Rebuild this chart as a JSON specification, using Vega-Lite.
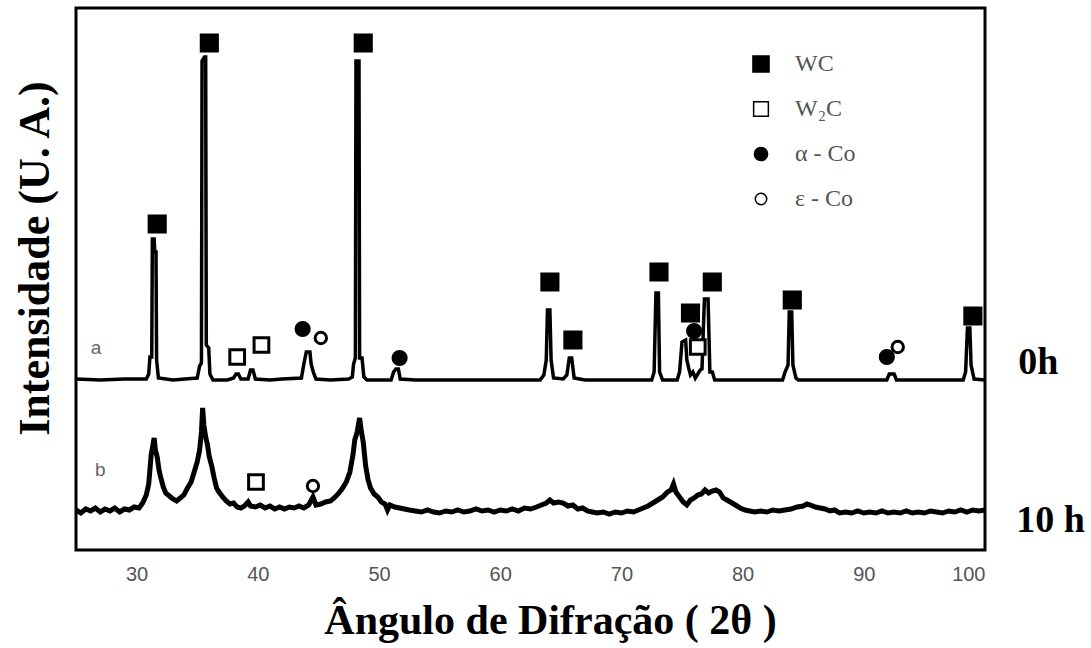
{
  "$schema": "https://vega.github.io/schema/vega-lite/v6.json",
  "width": 909,
  "height": 542,
  "autosize": "none",
  "padding": {"left": 76, "top": 8, "right": 106, "bottom": 98},
  "background": "white",
  "config": {
    "view": {"stroke": "black", "strokeWidth": 3},
    "font": "Liberation Serif"
  },
  "datasets": {
    "trace": [
      {"t":"a","x":25,"I":171},{"t":"a","x":27,"I":170},{"t":"a","x":29,"I":171},{"t":"a","x":30.8,"I":171},
      {"t":"a","x":31.0,"I":176},{"t":"a","x":31.1,"I":193},{"t":"a","x":31.25,"I":193},{"t":"a","x":31.3,"I":311},
      {"t":"a","x":31.45,"I":311},{"t":"a","x":31.5,"I":298},{"t":"a","x":31.6,"I":298},{"t":"a","x":31.65,"I":190},
      {"t":"a","x":31.8,"I":172},{"t":"a","x":33,"I":170},{"t":"a","x":34,"I":171},{"t":"a","x":35.0,"I":172},
      {"t":"a","x":35.2,"I":184},{"t":"a","x":35.35,"I":187},{"t":"a","x":35.4,"I":489},{"t":"a","x":35.6,"I":493},
      {"t":"a","x":35.7,"I":493},{"t":"a","x":35.75,"I":205},{"t":"a","x":35.95,"I":202},{"t":"a","x":36.05,"I":176},
      {"t":"a","x":36.3,"I":170},{"t":"a","x":37.5,"I":170},{"t":"a","x":38.0,"I":172},{"t":"a","x":38.2,"I":176},
      {"t":"a","x":38.4,"I":176},{"t":"a","x":38.6,"I":171},{"t":"a","x":39.2,"I":171},{"t":"a","x":39.4,"I":180},
      {"t":"a","x":39.6,"I":180},{"t":"a","x":39.8,"I":171},{"t":"a","x":41,"I":170},{"t":"a","x":42,"I":171},
      {"t":"a","x":43.6,"I":172},{"t":"a","x":43.8,"I":186},{"t":"a","x":44.0,"I":198},{"t":"a","x":44.3,"I":198},
      {"t":"a","x":44.4,"I":186},{"t":"a","x":44.6,"I":177},{"t":"a","x":44.8,"I":171},{"t":"a","x":46,"I":170},
      {"t":"a","x":47.5,"I":171},{"t":"a","x":47.8,"I":173},{"t":"a","x":47.9,"I":186},{"t":"a","x":48.05,"I":192},
      {"t":"a","x":48.1,"I":489},{"t":"a","x":48.35,"I":489},{"t":"a","x":48.4,"I":192},{"t":"a","x":48.6,"I":192},
      {"t":"a","x":48.75,"I":173},{"t":"a","x":49,"I":170},{"t":"a","x":51.0,"I":170},{"t":"a","x":51.2,"I":178},
      {"t":"a","x":51.4,"I":181},{"t":"a","x":51.6,"I":181},{"t":"a","x":51.75,"I":171},{"t":"a","x":53,"I":170},
      {"t":"a","x":56,"I":170},{"t":"a","x":60,"I":170},{"t":"a","x":63.3,"I":170},{"t":"a","x":63.6,"I":175},
      {"t":"a","x":63.8,"I":190},{"t":"a","x":63.9,"I":240},{"t":"a","x":64.1,"I":240},{"t":"a","x":64.2,"I":190},
      {"t":"a","x":64.4,"I":172},{"t":"a","x":65.2,"I":171},{"t":"a","x":65.5,"I":175},{"t":"a","x":65.7,"I":192},
      {"t":"a","x":65.9,"I":192},{"t":"a","x":66.1,"I":172},{"t":"a","x":67,"I":170},{"t":"a","x":70,"I":170},
      {"t":"a","x":72.5,"I":170},{"t":"a","x":72.7,"I":178},{"t":"a","x":72.85,"I":257},{"t":"a","x":73.05,"I":257},
      {"t":"a","x":73.15,"I":178},{"t":"a","x":73.4,"I":170},{"t":"a","x":74.6,"I":170},{"t":"a","x":74.8,"I":178},
      {"t":"a","x":75.0,"I":208},{"t":"a","x":75.3,"I":210},{"t":"a","x":75.4,"I":190},{"t":"a","x":75.55,"I":182},
      {"t":"a","x":75.7,"I":175},{"t":"a","x":75.9,"I":178},{"t":"a","x":76.1,"I":172},{"t":"a","x":76.3,"I":176},
      {"t":"a","x":76.5,"I":180},{"t":"a","x":76.65,"I":181},{"t":"a","x":76.85,"I":251},{"t":"a","x":77.15,"I":251},
      {"t":"a","x":77.3,"I":178},{"t":"a","x":77.5,"I":178},{"t":"a","x":77.7,"I":170},{"t":"a","x":80,"I":170},
      {"t":"a","x":83.3,"I":170},{"t":"a","x":83.5,"I":178},{"t":"a","x":83.75,"I":185},{"t":"a","x":83.85,"I":238},
      {"t":"a","x":84.05,"I":238},{"t":"a","x":84.15,"I":185},{"t":"a","x":84.4,"I":172},{"t":"a","x":84.6,"I":170},
      {"t":"a","x":88,"I":170},{"t":"a","x":91.9,"I":170},{"t":"a","x":92.1,"I":176},{"t":"a","x":92.5,"I":176},
      {"t":"a","x":92.7,"I":170},{"t":"a","x":96,"I":170},{"t":"a","x":98.2,"I":170},{"t":"a","x":98.4,"I":178},
      {"t":"a","x":98.55,"I":222},{"t":"a","x":98.75,"I":222},{"t":"a","x":98.85,"I":185},{"t":"a","x":99.1,"I":171},
      {"t":"a","x":100,"I":170},

      {"t":"b","x":25.0,"I":40},{"t":"b","x":25.4,"I":37},{"t":"b","x":25.8,"I":41},{"t":"b","x":26.2,"I":39},
      {"t":"b","x":26.6,"I":42},{"t":"b","x":27.0,"I":38},{"t":"b","x":27.4,"I":41},{"t":"b","x":27.8,"I":39},
      {"t":"b","x":28.2,"I":42},{"t":"b","x":28.6,"I":38},{"t":"b","x":29.0,"I":41},{"t":"b","x":29.4,"I":40},
      {"t":"b","x":29.8,"I":43},{"t":"b","x":30.2,"I":42},{"t":"b","x":30.5,"I":47},{"t":"b","x":30.8,"I":55},
      {"t":"b","x":31.0,"I":66},{"t":"b","x":31.2,"I":95},{"t":"b","x":31.35,"I":105},{"t":"b","x":31.45,"I":112},
      {"t":"b","x":31.55,"I":100},{"t":"b","x":31.7,"I":93},{"t":"b","x":31.85,"I":80},{"t":"b","x":32.0,"I":72},
      {"t":"b","x":32.2,"I":63},{"t":"b","x":32.4,"I":57},{"t":"b","x":32.7,"I":54},{"t":"b","x":33.0,"I":51},
      {"t":"b","x":33.3,"I":49},{"t":"b","x":33.6,"I":52},{"t":"b","x":33.9,"I":55},{"t":"b","x":34.2,"I":62},
      {"t":"b","x":34.5,"I":68},{"t":"b","x":34.8,"I":80},{"t":"b","x":35.0,"I":88},{"t":"b","x":35.2,"I":100},
      {"t":"b","x":35.35,"I":118},{"t":"b","x":35.45,"I":142},{"t":"b","x":35.55,"I":125},{"t":"b","x":35.7,"I":113},
      {"t":"b","x":35.85,"I":105},{"t":"b","x":36.0,"I":93},{"t":"b","x":36.2,"I":84},{"t":"b","x":36.4,"I":72},
      {"t":"b","x":36.6,"I":62},{"t":"b","x":36.8,"I":58},{"t":"b","x":37.1,"I":53},{"t":"b","x":37.4,"I":49},
      {"t":"b","x":37.7,"I":46},{"t":"b","x":38.0,"I":47},{"t":"b","x":38.3,"I":43},{"t":"b","x":38.6,"I":42},
      {"t":"b","x":38.9,"I":44},{"t":"b","x":39.2,"I":48},{"t":"b","x":39.4,"I":44},{"t":"b","x":39.8,"I":43},
      {"t":"b","x":40.2,"I":45},{"t":"b","x":40.6,"I":42},{"t":"b","x":41.0,"I":44},{"t":"b","x":41.4,"I":41},
      {"t":"b","x":41.8,"I":43},{"t":"b","x":42.2,"I":41},{"t":"b","x":42.6,"I":43},{"t":"b","x":43.0,"I":42},
      {"t":"b","x":43.4,"I":44},{"t":"b","x":43.8,"I":42},{"t":"b","x":44.2,"I":45},{"t":"b","x":44.55,"I":53},
      {"t":"b","x":44.8,"I":45},{"t":"b","x":45.2,"I":46},{"t":"b","x":45.6,"I":48},{"t":"b","x":46.0,"I":49},
      {"t":"b","x":46.3,"I":52},{"t":"b","x":46.7,"I":57},{"t":"b","x":47.0,"I":62},{"t":"b","x":47.3,"I":68},
      {"t":"b","x":47.6,"I":78},{"t":"b","x":47.85,"I":95},{"t":"b","x":48.0,"I":110},{"t":"b","x":48.2,"I":118},
      {"t":"b","x":48.4,"I":132},{"t":"b","x":48.55,"I":118},{"t":"b","x":48.7,"I":108},{"t":"b","x":48.9,"I":84},
      {"t":"b","x":49.1,"I":70},{"t":"b","x":49.3,"I":62},{"t":"b","x":49.6,"I":56},{"t":"b","x":49.9,"I":53},
      {"t":"b","x":50.2,"I":48},{"t":"b","x":50.5,"I":46},{"t":"b","x":50.7,"I":40},{"t":"b","x":50.9,"I":45},
      {"t":"b","x":51.3,"I":43},{"t":"b","x":51.7,"I":42},{"t":"b","x":52.1,"I":41},{"t":"b","x":52.5,"I":40},
      {"t":"b","x":53.0,"I":39},{"t":"b","x":53.5,"I":38},{"t":"b","x":54.0,"I":40},{"t":"b","x":54.5,"I":38},
      {"t":"b","x":55.0,"I":37},{"t":"b","x":55.5,"I":39},{"t":"b","x":56.0,"I":38},{"t":"b","x":56.5,"I":40},
      {"t":"b","x":57.0,"I":38},{"t":"b","x":57.5,"I":39},{"t":"b","x":58.0,"I":41},{"t":"b","x":58.5,"I":39},
      {"t":"b","x":59.0,"I":40},{"t":"b","x":59.5,"I":38},{"t":"b","x":60.0,"I":40},{"t":"b","x":60.5,"I":39},
      {"t":"b","x":61.0,"I":41},{"t":"b","x":61.5,"I":39},{"t":"b","x":62.0,"I":42},{"t":"b","x":62.5,"I":41},
      {"t":"b","x":63.0,"I":43},{"t":"b","x":63.4,"I":45},{"t":"b","x":63.8,"I":47},{"t":"b","x":64.1,"I":50},
      {"t":"b","x":64.4,"I":47},{"t":"b","x":64.8,"I":48},{"t":"b","x":65.2,"I":47},{"t":"b","x":65.6,"I":44},
      {"t":"b","x":66.0,"I":45},{"t":"b","x":66.4,"I":41},{"t":"b","x":66.8,"I":42},{"t":"b","x":67.2,"I":39},
      {"t":"b","x":67.6,"I":38},{"t":"b","x":68.0,"I":37},{"t":"b","x":68.5,"I":38},{"t":"b","x":69.0,"I":36},
      {"t":"b","x":69.5,"I":38},{"t":"b","x":70.0,"I":37},{"t":"b","x":70.5,"I":39},{"t":"b","x":71.0,"I":38},
      {"t":"b","x":71.4,"I":40},{"t":"b","x":71.8,"I":42},{"t":"b","x":72.2,"I":44},{"t":"b","x":72.6,"I":47},
      {"t":"b","x":73.0,"I":50},{"t":"b","x":73.4,"I":53},{"t":"b","x":73.8,"I":58},{"t":"b","x":74.1,"I":60},
      {"t":"b","x":74.3,"I":66},{"t":"b","x":74.5,"I":58},{"t":"b","x":74.8,"I":53},{"t":"b","x":75.1,"I":48},
      {"t":"b","x":75.4,"I":45},{"t":"b","x":75.7,"I":50},{"t":"b","x":76.0,"I":52},{"t":"b","x":76.3,"I":55},
      {"t":"b","x":76.6,"I":56},{"t":"b","x":76.9,"I":60},{"t":"b","x":77.2,"I":57},{"t":"b","x":77.5,"I":59},
      {"t":"b","x":77.8,"I":60},{"t":"b","x":78.1,"I":58},{"t":"b","x":78.4,"I":52},{"t":"b","x":78.7,"I":50},
      {"t":"b","x":79.0,"I":48},{"t":"b","x":79.4,"I":45},{"t":"b","x":79.8,"I":42},{"t":"b","x":80.2,"I":40},
      {"t":"b","x":80.6,"I":39},{"t":"b","x":81.0,"I":38},{"t":"b","x":81.5,"I":39},{"t":"b","x":82.0,"I":38},
      {"t":"b","x":82.5,"I":40},{"t":"b","x":83.0,"I":39},{"t":"b","x":83.5,"I":40},{"t":"b","x":84.0,"I":41},
      {"t":"b","x":84.5,"I":43},{"t":"b","x":85.0,"I":44},{"t":"b","x":85.3,"I":46},{"t":"b","x":85.6,"I":45},
      {"t":"b","x":86.0,"I":43},{"t":"b","x":86.4,"I":42},{"t":"b","x":86.8,"I":41},{"t":"b","x":87.2,"I":39},
      {"t":"b","x":87.6,"I":40},{"t":"b","x":88.0,"I":37},{"t":"b","x":88.5,"I":38},{"t":"b","x":89.0,"I":37},
      {"t":"b","x":89.5,"I":39},{"t":"b","x":90.0,"I":37},{"t":"b","x":90.5,"I":38},{"t":"b","x":91.0,"I":37},
      {"t":"b","x":91.5,"I":39},{"t":"b","x":92.0,"I":37},{"t":"b","x":92.5,"I":38},{"t":"b","x":93.0,"I":37},
      {"t":"b","x":93.5,"I":39},{"t":"b","x":94.0,"I":37},{"t":"b","x":94.5,"I":38},{"t":"b","x":95.0,"I":37},
      {"t":"b","x":95.5,"I":39},{"t":"b","x":96.0,"I":38},{"t":"b","x":96.5,"I":37},{"t":"b","x":97.0,"I":39},
      {"t":"b","x":97.5,"I":38},{"t":"b","x":98.0,"I":40},{"t":"b","x":98.5,"I":38},{"t":"b","x":99.0,"I":40},
      {"t":"b","x":99.5,"I":39},{"t":"b","x":100.0,"I":40}
    ],
    "markers": [
      {"phase":"WC","x":31.7,"I":326},{"phase":"WC","x":36.0,"I":507},{"phase":"WC","x":48.7,"I":507},
      {"phase":"WC","x":64.1,"I":268},{"phase":"WC","x":66.0,"I":210},{"phase":"WC","x":73.1,"I":278},
      {"phase":"WC","x":75.7,"I":237},{"phase":"WC","x":77.5,"I":268},{"phase":"WC","x":84.1,"I":250},
      {"phase":"WC","x":99.0,"I":234},
      {"phase":"W₂C","x":38.3,"I":193},{"phase":"W₂C","x":40.3,"I":205},{"phase":"W₂C","x":76.3,"I":203},
      {"phase":"W₂C","x":39.85,"I":68},
      {"phase":"α  - Co","x":43.7,"I":221},{"phase":"α  - Co","x":51.7,"I":192},{"phase":"α  - Co","x":76.0,"I":219},
      {"phase":"α  - Co","x":91.9,"I":193},
      {"phase":"ε  - Co","x":45.2,"I":212},{"phase":"ε  - Co","x":92.8,"I":203},{"phase":"ε  - Co","x":44.55,"I":64}
    ],
    "tags": [
      {"txt":"a","x":26.65,"I":202},{"txt":"b","x":27.0,"I":80}
    ],
    "sides": [
      {"txt":"0h","x":104.4,"I":187},{"txt":"10 h","x":105.4,"I":29}
    ]
  },
  "layer": [
    {
      "data": {"name": "trace"},
      "transform": [{"filter": "datum.t == 'a'"}],
      "mark": {"type": "line", "color": "black", "strokeWidth": 3.5, "strokeJoin": "miter"},
      "encoding": {
        "x": {"field": "x", "type": "quantitative", "scale": {"domain": [25, 100], "nice": false, "zero": false},
          "axis": {"values": [30,40,50,60,70,80,90,100], "ticks": false, "domain": false, "grid": false,
            "labelFont": "Liberation Sans Narrow, Liberation Sans", "labelFontSize": 20, "labelColor": "#555",
            "labelPadding": 14, "title": "Ângulo de Difração ( 2θ )", "titleFont": "Liberation Serif",
            "titleFontSize": 42, "titleFontWeight": "bold", "titleColor": "black", "titlePadding": 16, "titleX": 474}},
        "y": {"field": "I", "type": "quantitative", "scale": {"domain": [0, 542], "nice": false, "zero": false},
          "axis": {"labels": false, "ticks": false, "domain": false, "grid": false,
            "title": "Intensidade (U. A.)", "titleFont": "Liberation Serif", "titleFontSize": 44,
            "titleFontWeight": "bold", "titleColor": "black", "titleX": -41, "titleY": 250, "titleAngle": 270,
            "titleBaseline": "middle", "titleAlign": "center"}}
      }
    },
    {
      "data": {"name": "trace"},
      "transform": [{"filter": "datum.t == 'b'"}],
      "mark": {"type": "line", "color": "black", "strokeWidth": 5, "strokeJoin": "miter"},
      "encoding": {
        "x": {"field": "x", "type": "quantitative"},
        "y": {"field": "I", "type": "quantitative"}
      }
    },
    {
      "data": {"name": "markers"},
      "mark": {"type": "point", "stroke": "black", "strokeWidth": 3, "opacity": 1},
      "encoding": {
        "x": {"field": "x", "type": "quantitative"},
        "y": {"field": "I", "type": "quantitative"},
        "shape": {"field": "phase", "type": "nominal",
          "scale": {"domain": ["WC","W₂C","α  - Co","ε  - Co"], "range": ["square","square","circle","circle"]},
          "legend": {"title": null, "orient": "none", "legendX": 673, "legendY": 44, "padding": 0,
            "rowPadding": 21, "labelFont": "Liberation Serif", "labelFontSize": 24, "labelColor": "#555",
            "labelOffset": 22,
            "encode": {"symbols": {"update": {"stroke": {"value": "black"}, "strokeWidth": {"value": 3}, "opacity": {"value": 1}}}}}},
        "fill": {"field": "phase", "type": "nominal",
          "scale": {"domain": ["WC","W₂C","α  - Co","ε  - Co"], "range": ["black","white","black","white"]},
          "legend": {"title": null, "orient": "none", "legendX": 673, "legendY": 44, "padding": 0,
            "rowPadding": 21, "labelFont": "Liberation Serif", "labelFontSize": 24, "labelColor": "#555",
            "labelOffset": 22,
            "encode": {"symbols": {"update": {"stroke": {"value": "black"}, "strokeWidth": {"value": 3}, "opacity": {"value": 1}}}}}},
        "size": {"field": "phase", "type": "nominal",
          "scale": {"domain": ["WC","W₂C","α  - Co","ε  - Co"], "range": [260, 130, 60, 100]},
          "legend": {"title": null, "orient": "none", "legendX": 673, "legendY": 44, "padding": 0,
            "rowPadding": 21, "labelFont": "Liberation Serif", "labelFontSize": 24, "labelColor": "#555",
            "labelOffset": 22,
            "encode": {"symbols": {"update": {"stroke": {"value": "black"}, "strokeWidth": {"value": 3}, "opacity": {"value": 1}}}}}}
      }
    },
    {
      "data": {"name": "tags"},
      "mark": {"type": "text", "font": "Liberation Sans", "fontSize": 19, "color": "#666", "align": "center", "baseline": "middle"},
      "encoding": {
        "x": {"field": "x", "type": "quantitative"},
        "y": {"field": "I", "type": "quantitative"},
        "text": {"field": "txt"}
      }
    },
    {
      "data": {"name": "sides"},
      "mark": {"type": "text", "font": "Liberation Serif", "fontSize": 38, "fontWeight": "bold", "color": "black", "align": "center", "baseline": "middle"},
      "encoding": {
        "x": {"field": "x", "type": "quantitative"},
        "y": {"field": "I", "type": "quantitative"},
        "text": {"field": "txt"}
      }
    }
  ]
}
